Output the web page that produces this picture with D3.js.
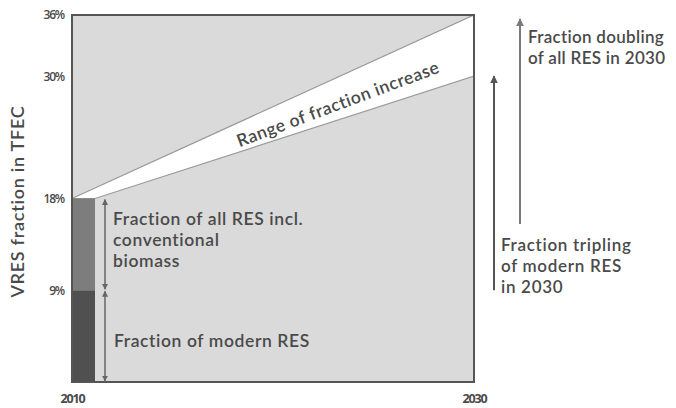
<!DOCTYPE html>
<html>
<head>
<meta charset="utf-8">
<script src="https://cdn.jsdelivr.net/npm/d3@7"></script>
<style>
  body { margin: 0; background: #fff; }
  svg text { font-family: Lato, "Open Sans", sans-serif; fill: #4a4a4a; font-weight: 600; }
</style>
</head>
<body>
<div id="chart"></div>
<script>
// chart data
const years = [2010, 2030];
const yTicks = [9, 18, 30, 36];
const modernRES2010 = 9;      // fraction of modern RES
const allRES2010 = 18;        // fraction of all RES incl. conventional biomass
const range2030 = [30, 36];   // low / high end of the 2030 fraction
const arrowTripling = [9, 30];
const arrowDoubling = [15.5, 35.6];

const WIDTH = 676, HEIGHT = 408;
const MARGIN = { left: 72, top: 15, right: 202, bottom: 26 };
const BAR_W = 23;
const FONT = "17.5px";
const FONT_R = "17px";

const svg = d3.select("#chart").append("svg")
  .attr("width", WIDTH)
  .attr("height", HEIGHT);

const x = d3.scaleLinear()
  .domain(d3.extent(years))
  .range([MARGIN.left, WIDTH - MARGIN.right]);

const y = d3.scaleLinear()
  .domain([0, 36])
  .range([HEIGHT - MARGIN.bottom, MARGIN.top]);

// arrow markers
const defs = svg.append("defs");
function marker(id, color, orient) {
  defs.append("marker")
    .attr("id", id)
    .attr("viewBox", "0 0 10 10")
    .attr("refX", 9).attr("refY", 5)
    .attr("markerWidth", 4).attr("markerHeight", 4)
    .attr("markerUnits", "strokeWidth")
    .attr("orient", orient)
    .append("path")
    .attr("d", "M0,0 L10,5 L0,10 z")
    .attr("fill", color);
}
marker("headDark", "#555", "auto");
marker("headLight", "#7a7a7a", "auto");
marker("headSmall", "#666", "auto-start-reverse");

// plot background
svg.append("rect")
  .attr("x", x(2010)).attr("y", y(36))
  .attr("width", x(2030) - x(2010))
  .attr("height", y(0) - y(36))
  .attr("fill", "#dadada");

// white wedge: range of fraction increase
const wedge = [
  [x(2010), y(allRES2010)],
  [x(2030), y(range2030[1])],
  [x(2030), y(range2030[0])],
  [x(2010) + BAR_W, y(allRES2010)]
];
svg.append("path")
  .attr("d", d3.line()(wedge) + "Z")
  .attr("fill", "#fff")
  .attr("stroke", "#9a9a9a")
  .attr("stroke-width", 1.2);

// 2010 bar, two segments
const segs = [
  { lo: 0, hi: modernRES2010, color: "#505050" },
  { lo: modernRES2010, hi: allRES2010, color: "#7d7d7d" }
];
svg.selectAll("rect.seg")
  .data(segs)
  .enter()
  .append("rect")
  .attr("class", "seg")
  .attr("x", x(2010))
  .attr("y", d => y(d.hi))
  .attr("width", BAR_W)
  .attr("height", d => y(d.lo) - y(d.hi))
  .attr("fill", d => d.color);

// frame
svg.append("rect")
  .attr("x", x(2010)).attr("y", y(36))
  .attr("width", x(2030) - x(2010))
  .attr("height", y(0) - y(36))
  .attr("fill", "none")
  .attr("stroke", "#555")
  .attr("stroke-width", 2);

// y axis labels
const gY = svg.append("g").attr("transform", "translate(" + (MARGIN.left - 8) + ",0)");
gY.call(d3.axisLeft(y).tickValues(yTicks).tickSize(0).tickFormat(d => d + "%"));
gY.select(".domain").remove();
gY.selectAll("text")
  .attr("x", 0)
  .style("font-family", "'Open Sans', sans-serif")
  .style("font-size", "12px")
  .style("letter-spacing", "-1.2px")
  .attr("fill", "#505050");

// x axis labels
const gX = svg.append("g").attr("transform", "translate(0," + (y(0) + 9) + ")");
gX.call(d3.axisBottom(x).tickValues(years).tickSize(0).tickFormat(d3.format("d")));
gX.select(".domain").remove();
gX.selectAll("text")
  .style("font-family", "'Open Sans', sans-serif")
  .style("font-size", "12.5px")
  .style("font-weight", "bold")
  .style("letter-spacing", "-1.2px")
  .attr("fill", "#3a3a3a");

// y axis title
svg.append("text")
  .attr("transform", "translate(24," + y(17.7) + ") rotate(-90)")
  .attr("text-anchor", "middle")
  .style("font-size", "18px")
  .style("letter-spacing", "0.75px")
  .text("VRES fraction in TFEC");

// double arrows beside the bar
const ax = x(2010) + BAR_W + 10;
[[allRES2010, modernRES2010], [modernRES2010, 0]].forEach(function (p) {
  svg.append("line")
    .attr("x1", ax).attr("x2", ax)
    .attr("y1", y(p[0]) + 1).attr("y2", y(p[1]) - 1)
    .attr("stroke", "#666")
    .attr("stroke-width", 1.5)
    .attr("marker-start", "url(#headSmall)")
    .attr("marker-end", "url(#headSmall)");
});

// annotations, one text per line
function lines(tx, ty, arr, dy, size, ls) {
  arr.forEach(function (s, i) {
    svg.append("text")
      .attr("x", tx).attr("y", ty + i * dy)
      .style("font-size", size)
      .style("letter-spacing", ls)
      .text(s);
  });
}
lines(ax + 8, 225, ["Fraction of all RES incl.", "conventional", "biomass"], 21, FONT, "0.6px");
lines(ax + 9, 347, ["Fraction of modern RES"], 0, FONT, "0.6px");

// rotated wedge label
svg.append("text")
  .attr("transform", "translate(338,104) rotate(-20.5)")
  .attr("text-anchor", "middle")
  .attr("dy", "0.35em")
  .style("font-size", FONT)
  .style("letter-spacing", "0.55px")
  .text("Range of fraction increase");

// right side arrows
svg.append("line")
  .attr("x1", 494).attr("x2", 494)
  .attr("y1", y(arrowTripling[0])).attr("y2", y(arrowTripling[1]))
  .attr("stroke", "#555")
  .attr("stroke-width", 2)
  .attr("marker-end", "url(#headDark)");
svg.append("line")
  .attr("x1", 520).attr("x2", 520)
  .attr("y1", y(arrowDoubling[0])).attr("y2", y(arrowDoubling[1]))
  .attr("stroke", "#7a7a7a")
  .attr("stroke-width", 2)
  .attr("marker-end", "url(#headLight)");

lines(528, 43, ["Fraction doubling", "of all RES in 2030"], 21, FONT_R, "0.3px");
lines(501, 251, ["Fraction tripling", "of modern RES", "in 2030"], 21, FONT_R, "0.7px");
</script>
</body>
</html>
